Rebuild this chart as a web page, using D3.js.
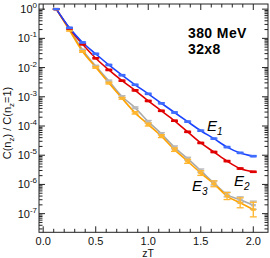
<!DOCTYPE html>
<html><head><meta charset="utf-8">
<script src="https://cdn.jsdelivr.net/npm/d3@7"></script>
<style>body{margin:0;background:#fff}svg{display:block}text{font-family:"Liberation Sans",Arial,sans-serif}</style>
</head><body><svg id="c" width="270" height="258"></svg>
<script>
const zT = [0.125,0.25,0.375,0.5,0.625,0.75,0.875,1.0,1.125,1.25,1.375,1.5,1.625,1.75,1.875,2.0];
const E1 = [1,0.229,0.0724,0.0295,0.0123,0.0055,0.00257,0.00126,6.0e-4,2.9e-4,1.41e-4,6.9e-5,3.7e-5,1.9e-5,1.2e-5,9.3e-6];
const E2 = [1,0.219,0.063,0.0209,0.0083,0.00355,0.00166,7.2e-4,3.3e-4,1.51e-4,6.3e-5,2.63e-5,1.29e-5,6.3e-6,3.5e-6,2.7e-6];
const G3 = [1,0.209,0.0398,0.0112,0.00347,0.00102,4.2e-4,1.41e-4,5.4e-5,1.86e-5,7.6e-6,2.95e-6,1.12e-6,4.5e-7,3.0e-7,1.95e-7];
const E3 = [1,0.19,0.0355,0.0102,0.00295,8.9e-4,2.82e-4,1.12e-4,4.5e-5,1.55e-5,6.2e-6,2.45e-6,1.05e-6,4.0e-7,2.35e-7,1.38e-7];
// log10 half-widths of error bars
const errE1 = [0.01,0.02,0.02,0.02,0.02,0.02,0.02,0.02,0.02,0.02,0.02,0.02,0.02,0.02,0.02,0.02];
const errE2 = [0.01,0.02,0.02,0.02,0.02,0.02,0.02,0.02,0.02,0.02,0.02,0.02,0.02,0.02,0.02,0.02];
const errG3 = [0.01,0.03,0.03,0.03,0.03,0.03,0.03,0.04,0.04,0.05,0.05,0.06,0.07,0.08,0.10,0.14];
const errE3 = [0.01,0.03,0.03,0.03,0.03,0.03,0.04,0.05,0.05,0.06,0.07,0.08,0.10,0.12,0.17,0.25];
const xTicks = [0.0,0.5,1.0,1.5,2.0];
const yExps = [0,-1,-2,-3,-4,-5,-6,-7];

const svg = d3.select("#c");
const L=39,R=268,T=4,B=232.3;
const x = d3.scaleLinear().domain([-0.04,2.14]).range([L,R]);
const y = d3.scaleLog().domain([2.3e-8,1.5]).range([B,T]);

const series = [
  {v:G3,e:errG3,line:"#a9a9a9",mk:"#b8b8b8"},
  {v:E3,e:errE3,line:"#ffa200",mk:"#ffb52e"},
  {v:E2,e:errE2,line:"#e00000",mk:"#e00000"},
  {v:E1,e:errE1,line:"#1a44ff",mk:"#3f6cff"}
];
const lineGen = d3.line().x((d,i)=>x(zT[i])).y(d=>y(d)).curve(d3.curveMonotoneX);
series.forEach(s=>{
  svg.append("path").attr("d",lineGen(s.v)).attr("fill","none").attr("stroke",s.line).attr("stroke-width",1.6);
});
series.forEach(s=>{
  const g = svg.append("g").attr("stroke",s.mk).attr("stroke-width",1.3).attr("fill","none");
  s.v.forEach((v,i)=>{
    const cx=x(zT[i]);
    const y1=y(v*Math.pow(10,s.e[i])), y2=y(v/Math.pow(10,s.e[i]));
    g.append("line").attr("x1",cx).attr("x2",cx).attr("y1",y1).attr("y2",y2);
    g.append("line").attr("x1",cx-3.5).attr("x2",cx+3.5).attr("y1",y1).attr("y2",y1);
    g.append("line").attr("x1",cx-3.5).attr("x2",cx+3.5).attr("y1",y2).attr("y2",y2);
    g.append("rect").attr("x",cx-2.5).attr("y",y(v)-1.2).attr("width",5).attr("height",2.4).attr("fill",s.mk).attr("stroke","none");
  });
});

// frame
svg.append("rect").attr("x",L).attr("y",T).attr("width",R-L).attr("height",B-T).attr("fill","none").attr("stroke","#222").attr("stroke-width",1);

// x ticks (inward, top and bottom)
const tk = svg.append("g").attr("stroke","#222").attr("stroke-width",1);
d3.range(0,21).forEach(k=>{
  const v=k/10, px=x(v), major=(k%5===0), len=major?6:3.5;
  tk.append("line").attr("x1",px).attr("x2",px).attr("y1",B).attr("y2",B-len);
  tk.append("line").attr("x1",px).attr("x2",px).attr("y1",T).attr("y2",T+len);
});
// y ticks (log, inward, left and right)
for(let e=0;e>=-8;e--){
  for(let m=1;m<=9;m++){
    const v=m*Math.pow(10,e);
    if(v<2.3e-8||v>1.5) continue;
    const py=y(v), len=(m===1)?6:3.5;
    tk.append("line").attr("x1",L).attr("x2",L+len).attr("y1",py).attr("y2",py);
    tk.append("line").attr("x1",R).attr("x2",R-len).attr("y1",py).attr("y2",py);
  }
}
// x tick labels
svg.append("g").selectAll("text").data(xTicks).join("text")
  .attr("x",d=>x(d)).attr("y",245).attr("text-anchor","middle").attr("font-size",11).attr("fill","#111")
  .text(d=>d.toFixed(1));
// y tick labels
yExps.forEach(e=>{
  const t=svg.append("text").attr("x",L-2).attr("y",y(Math.pow(10,e))+4).attr("text-anchor","end").attr("font-size",11).attr("fill","#111");
  t.append("tspan").text("10");
  t.append("tspan").attr("dy",-5).attr("font-size",8).text(e===0?"0":"-"+(-e));
});
// axis titles
svg.append("text").attr("x",148).attr("y",257).attr("text-anchor","middle").attr("font-size",10.5).attr("fill","#111").text("zT");
const yt=svg.append("text").attr("transform","translate(11,123) rotate(-90)").attr("text-anchor","middle").attr("font-size",11).attr("fill","#111");
yt.append("tspan").text("C(n");
yt.append("tspan").attr("dy",3).attr("font-size",8).text("z");
yt.append("tspan").attr("dy",-3).text(") / C(n");
yt.append("tspan").attr("dy",3).attr("font-size",8).text("z");
yt.append("tspan").attr("dy",-3).text("=1)");

// annotation
svg.append("text").attr("x",188).attr("y",38).attr("font-size",14).attr("font-weight","bold").attr("letter-spacing",0.4).attr("fill","#000").text("380 MeV");
svg.append("text").attr("x",188).attr("y",54).attr("font-size",14).attr("font-weight","bold").attr("letter-spacing",0.4).attr("fill","#000").text("32x8");
const labs=[{t:"E",s:"1",x:207,y:131},{t:"E",s:"2",x:234,y:186},{t:"E",s:"3",x:192,y:191}];
labs.forEach(l=>{
  const t=svg.append("text").attr("x",l.x).attr("y",l.y).attr("font-size",15).attr("font-style","italic").attr("fill","#000");
  t.append("tspan").text(l.t);
  t.append("tspan").attr("dy",4).attr("font-size",10).text(l.s);
});
</script></body></html>
